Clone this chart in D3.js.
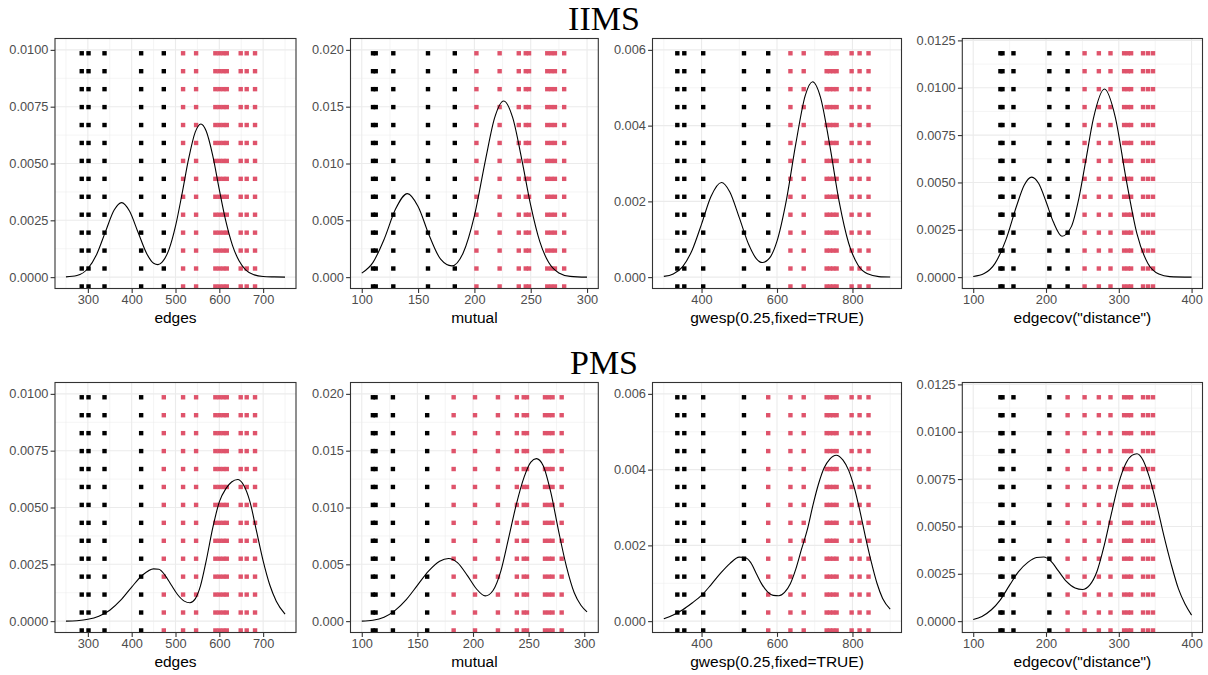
<!DOCTYPE html>
<html><head><meta charset="utf-8">
<script src="https://cdn.jsdelivr.net/npm/d3@7"></script>
<style>body{margin:0;background:#fff} svg{display:block}</style>
</head><body><svg id="c" width="1208" height="675"></svg>
<script>
// ---------------- data ----------------
const models = ["IIMS", "PMS"];
const statNames = ["edges", "mutual", "gwesp(0.25,fixed=TRUE)", "edgecov(\"distance\")"];

// observed statistics of the 14 networks (sorted)
const edgesObs   = [286, 301.5, 338, 421.6, 473.3, 517.3, 547, 591, 600, 609, 617, 648.8, 662.5, 681.5];
const mutualObs  = [110, 112.4, 128, 158.8, 182.6, 201.8, 222.4, 239.4, 245.6, 248.5, 264.7, 268.2, 271.5, 279.7];
const gwespObs   = [335.8, 354.3, 404.4, 512.5, 576.7, 635.6, 670.8, 731.6, 740.4, 749.2, 758, 797.8, 818.9, 842.6];
const edgecovObs = [137.4, 140.2, 155.3, 204.6, 229.7, 253, 272.6, 288.6, 307.3, 312.3, 316.9, 333.3, 340.2, 347];

// group membership (0 = black, 1 = red)
const iimsGroup = [0,0,0,0,0,1,1,1,1,1,1,1,1,1];
const pmsGroup  = [0,0,0,0,1,1,1,1,1,1,1,1,1,1];

// density curves: [x, density]
const iimsEdgesCurve = [[250,0.00001],[275,0.00007],[300,0.00038],[320,0.00100],[340,0.00199],[360,0.00295],[377,0.00328],[395,0.00291],[415,0.00195],[435,0.00101],[450,0.00061],[460,0.00055],[470,0.00067],[485,0.00121],[500,0.00224],[515,0.00367],[530,0.00521],[545,0.00638],[558,0.00674],[570,0.00643],[585,0.00535],[600,0.00385],[615,0.00245],[630,0.00140],[645,0.00072],[660,0.00032],[680,0.00010],[700,0.00003],[725,0.00001],[750,0.0]];
const iimsMutualCurve = [[100,0.00035],[110,0.00130],[120,0.00337],[130,0.00599],[140.5,0.00735],[150,0.00622],[160,0.00364],[170,0.00158],[180,0.00099],[190,0.00213],[200,0.00540],[210,0.01039],[218,0.01403],[226,0.01550],[234,0.01403],[242,0.01039],[250,0.00631],[258,0.00314],[266,0.00128],[275,0.00037],[285,0.00007],[300,0.0]];
const iimsGwespCurve = [[300,0.00002],[325,0.000084],[350,0.000278],[375,0.000711],[400,0.00140],[425,0.00213],[452.7,0.00250],[475,0.00225],[500,0.00157],[525,0.00086],[545,0.00049],[561,0.000385],[580,0.00050],[600,0.00095],[625,0.00204],[650,0.00353],[675,0.00480],[694.5,0.00516],[715,0.00476],[740,0.00347],[765,0.00198],[790,0.000894],[815,0.000316],[840,0.000088],[870,0.000014],[900,0.000002]];
const iimsEdgecovCurve = [[100,0.000034],[115,0.000187],[130,0.000726],[145,0.00198],[160,0.00381],[170,0.00485],[180.4,0.00528],[190,0.00494],[200,0.00399],[210,0.00292],[222,0.00216],[235,0.00268],[245,0.00413],[255,0.00623],[265,0.00835],[280.4,0.00993],[295,0.00848],[310,0.00519],[325,0.00228],[340,0.00072],[355,0.000162],[370,0.000026],[400,0]];

const pmsEdgesCurve = [[250,0],[275,0.00002],[300,0.00008],[325,0.00022],[350,0.00048],[375,0.00092],[400,0.00150],[425,0.00203],[450,0.00230],[462,0.00228],[475,0.00205],[490,0.00160],[505,0.00116],[520,0.00088],[533,0.00081],[545,0.00098],[557,0.00155],[570,0.00265],[585,0.00410],[600,0.00525],[615,0.00583],[628,0.00612],[642,0.00623],[655,0.00600],[670,0.00525],[685,0.00395],[700,0.00265],[715,0.00160],[730,0.00088],[750,0.00031]];
const pmsMutualCurve = [[100,0],[110,0.00008],[120,0.00035],[130,0.00095],[140,0.00190],[150,0.00315],[160,0.00440],[170,0.00527],[178,0.00551],[186,0.00515],[195,0.00400],[203,0.00285],[211,0.00222],[218,0.00270],[225,0.00440],[232,0.00730],[239,0.01030],[246,0.01270],[252,0.01400],[257,0.01430],[263,0.01370],[270,0.01130],[277,0.00790],[284,0.00480],[291,0.00250],[297,0.00140],[302.5,0.00082]];
const pmsGwespCurve = [[300,0.00006],[325,0.00016],[350,0.00030],[375,0.00048],[400,0.00068],[425,0.00096],[450,0.00126],[475,0.00152],[500,0.00169],[515,0.00168],[530,0.00155],[545,0.00126],[560,0.00097],[575,0.00077],[590,0.00068],[605,0.00067],[620,0.00076],[635,0.00098],[650,0.00138],[665,0.00190],[680,0.00240],[695,0.00305],[710,0.00362],[725,0.00405],[740,0.00428],[757,0.00438],[775,0.00425],[790,0.00398],[805,0.00352],[820,0.00290],[835,0.00220],[850,0.00156],[865,0.00100],[880,0.00060],[900,0.00032]];
const pmsEdgecovCurve = [[100,0.00009],[112,0.00025],[125,0.00060],[137,0.00111],[150,0.00190],[162,0.00260],[175,0.00310],[187,0.00336],[197,0.00339],[207,0.00315],[217,0.00265],[228,0.00210],[240,0.00175],[250,0.00167],[260,0.00190],[270,0.00262],[280,0.00400],[290,0.00570],[300,0.00730],[310,0.00835],[318,0.00875],[325,0.00884],[333,0.00852],[342,0.00760],[352,0.00615],[362,0.00450],[372,0.00300],[382,0.00170],[391,0.00090],[400,0.00032]];

// axis settings
const yLimitTop = [0.01, 0.02, 0.006, 0.012];
const yTicksEdges   = [0, 0.0025, 0.005, 0.0075, 0.01];
const yTicksMutual  = [0, 0.005, 0.01, 0.015, 0.02];
const yTicksGwesp   = [0, 0.002, 0.004, 0.006];
const yTicksEdgecov = [0, 0.0025, 0.005, 0.0075, 0.01, 0.0125];
const yDecimals = [4, 3, 3, 4];
const xTicksEdges   = [300, 400, 500, 600, 700];
const xTicksMutual  = [100, 150, 200, 250, 300];
const xTicksGwesp   = [400, 600, 800];
const xTicksEdgecov = [100, 200, 300, 400];

const observed = [edgesObs, mutualObs, gwespObs, edgecovObs];
const groups = [iimsGroup, pmsGroup];
const curves = [[iimsEdgesCurve, iimsMutualCurve, iimsGwespCurve, iimsEdgecovCurve],
                [pmsEdgesCurve, pmsMutualCurve, pmsGwespCurve, pmsEdgecovCurve]];
const yTicks = [yTicksEdges, yTicksMutual, yTicksGwesp, yTicksEdgecov];
const xTicks = [xTicksEdges, xTicksMutual, xTicksGwesp, xTicksEdgecov];
const groupColors = ["#000000", "#DF536B"];

// ---------------- layout ----------------
const rowTop = [38.5, 382.5];
const panelH = 250;
const colLeft = [55, 350.5, 652.5, 962.3];
const colRight = [296, 598.3, 901.5, 1202.5];
const titleBaseline = [29.5, 373.5];
const nRows = 14;

const svg = d3.select("#c");
svg.append("rect").attr("width", 1208).attr("height", 675).attr("fill", "#fff");

function minorBreaks(ticks, domain) {
  const step = ticks[1] - ticks[0];
  const out = [];
  for (let v = ticks[0] - step / 2; v <= domain[1]; v += step) {
    if (v >= domain[0]) out.push(v);
  }
  return out;
}

models.forEach((model, r) => {
  svg.append("text")
    .attr("x", 604).attr("y", titleBaseline[r])
    .attr("text-anchor", "middle")
    .style("font-family", "'Liberation Serif', serif")
    .style("font-size", "34px")
    .attr("fill", "#000")
    .text(model);

  statNames.forEach((stat, c) => {
    const x0 = colLeft[c], x1 = colRight[c];
    const y0 = rowTop[r], y1 = rowTop[r] + panelH;
    const curve = curves[r][c];
    const xe = d3.extent(curve.map(d => d[0]).concat(observed[c]));
    const xpad = (xe[1] - xe[0]) * 0.05;
    const M = yLimitTop[c];
    const x = d3.scaleLinear().domain([xe[0] - xpad, xe[1] + xpad]).range([x0, x1]);
    const y = d3.scaleLinear().domain([-0.05 * M, 1.05 * M]).range([y1, y0]);

    const g = svg.append("g");
    const clipId = `clip-${r}-${c}`;
    svg.append("clipPath").attr("id", clipId)
      .append("rect").attr("x", x0).attr("y", y0).attr("width", x1 - x0).attr("height", y1 - y0);

    const plot = g.append("g").attr("clip-path", `url(#${clipId})`);

    // minor grid
    minorBreaks(xTicks[c], x.domain()).forEach(v => {
      plot.append("line").attr("x1", x(v)).attr("x2", x(v)).attr("y1", y0).attr("y2", y1)
        .attr("stroke", "#EBEBEB").attr("stroke-width", 0.55);
    });
    minorBreaks(yTicks[c], y.domain()).forEach(v => {
      plot.append("line").attr("y1", y(v)).attr("y2", y(v)).attr("x1", x0).attr("x2", x1)
        .attr("stroke", "#EBEBEB").attr("stroke-width", 0.55);
    });
    // major grid
    xTicks[c].forEach(v => {
      plot.append("line").attr("x1", x(v)).attr("x2", x(v)).attr("y1", y0).attr("y2", y1)
        .attr("stroke", "#EBEBEB").attr("stroke-width", 1.1);
    });
    yTicks[c].forEach(v => {
      plot.append("line").attr("y1", y(v)).attr("y2", y(v)).attr("x1", x0).attr("x2", x1)
        .attr("stroke", "#EBEBEB").attr("stroke-width", 1.1);
    });

    // observed-statistic stripes
    const rowsY = d3.range(nRows).map(i => M * (-0.041 + i * (1.026 / (nRows - 1))));
    const pts = [];
    observed[c].forEach((v, i) => rowsY.forEach(ry => pts.push({x: v, y: ry, g: groups[r][i]})));
    const sz = 4.4;
    plot.selectAll(null).data(pts).enter().append("rect")
      .attr("x", d => x(d.x) - sz / 2).attr("y", d => y(d.y) - sz / 2)
      .attr("width", sz).attr("height", sz)
      .attr("fill", d => groupColors[d.g]);

    // density curve
    const line = d3.line().x(d => x(d[0])).y(d => y(d[1])).curve(d3.curveMonotoneX);
    plot.append("path").attr("d", line(curve)).attr("fill", "none")
      .attr("stroke", "#000").attr("stroke-width", 1.1);

    // border
    g.append("rect").attr("x", x0).attr("y", y0).attr("width", x1 - x0).attr("height", y1 - y0)
      .attr("fill", "none").attr("stroke", "#333333").attr("stroke-width", 1.1);

    // axes
    const fmt = d3.format(`.${yDecimals[c]}f`);
    const yAxis = d3.axisLeft(y).tickValues(yTicks[c]).tickFormat(fmt).tickSize(4.4).tickPadding(2.2);
    const xAxis = d3.axisBottom(x).tickValues(xTicks[c]).tickFormat(d3.format("d")).tickSize(4.4).tickPadding(2.2);
    const ya = g.append("g").attr("transform", `translate(${x0},0)`).call(yAxis);
    const xa = g.append("g").attr("transform", `translate(0,${y1})`).call(xAxis);
    [ya, xa].forEach(a => {
      a.select(".domain").remove();
      a.selectAll(".tick line").attr("stroke", "#333333").attr("stroke-width", 1.1);
      a.selectAll(".tick text").attr("fill", "#4D4D4D")
        .style("font-family", "'Liberation Sans', Arial, sans-serif").style("font-size", "12.8px");
    });

    g.append("text").attr("x", (x0 + x1) / 2).attr("y", y1 + 34)
      .attr("text-anchor", "middle")
      .style("font-family", "'Liberation Sans', Arial, sans-serif").style("font-size", "15.5px")
      .attr("fill", "#000").text(stat);
  });
});
</script></body></html>
